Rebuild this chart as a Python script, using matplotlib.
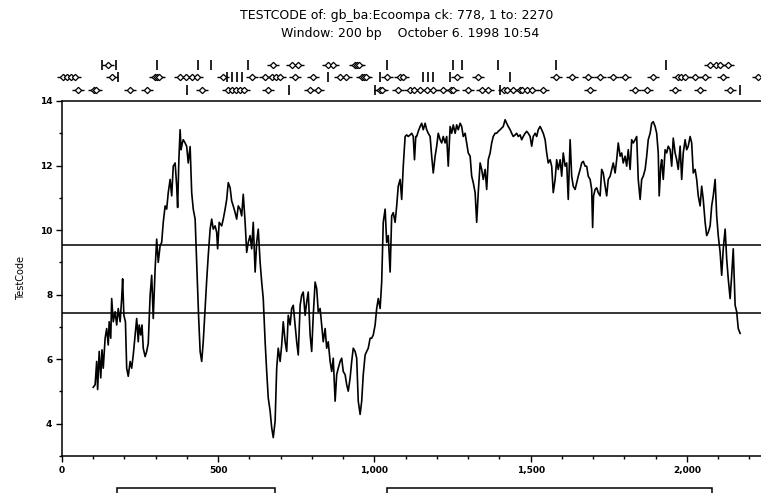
import matplotlib
matplotlib.use("Agg")
import matplotlib.pyplot as plt
import matplotlib.transforms as mtransforms
from matplotlib.patches import Rectangle
from matplotlib.ticker import MultipleLocator, FuncFormatter

# Sliding-window TestCode profile (position in bp, score)
positions = [
    100, 106, 111, 114, 119, 124, 128, 132, 138, 143, 148, 151, 156, 159, 164, 170, 175, 180, 186, 191,
    194, 198, 203, 207, 212, 218, 223, 228, 234, 239, 244, 247, 252, 256, 260, 266, 271, 276, 282, 287,
    292, 298, 303, 308, 314, 319, 324, 330, 335, 340, 346, 351, 356, 362, 367, 370, 374, 378, 381, 385,
    388, 394, 399, 404, 410, 415, 420, 426, 429, 433, 437, 442, 447, 452, 458, 463, 468, 474, 479, 484,
    490, 495, 498, 503, 511, 516, 522, 527, 532, 538, 543, 548, 554, 559, 564, 570, 575, 580, 586, 591,
    596, 602, 607, 612, 618, 623, 628, 634, 639, 644, 650, 655, 660, 666, 671, 676, 682, 687, 692, 698,
    703, 708, 714, 719, 724, 730, 735, 740, 746, 751, 756, 762, 767, 772, 778, 783, 788, 794, 799, 804,
    810, 815, 820, 826, 831, 836, 842, 847, 852, 858, 863, 868, 874, 879, 884, 890, 895, 900, 906, 911,
    916, 922, 927, 932, 938, 943, 948, 954, 959, 964, 970, 975, 980, 986, 991, 996, 1002, 1007, 1012, 1018,
    1023, 1028, 1034, 1039, 1044, 1050, 1055, 1060, 1066, 1071, 1076, 1082, 1087, 1092, 1098, 1103, 1108, 1114, 1119, 1124,
    1128, 1132, 1135, 1140, 1146, 1151, 1156, 1162, 1167, 1172, 1178, 1183, 1188, 1194, 1199, 1204, 1210, 1215, 1220, 1226,
    1231, 1236, 1242, 1247, 1252, 1258, 1263, 1268, 1274, 1279, 1284, 1290, 1295, 1300, 1306, 1311, 1316, 1322, 1327, 1332,
    1338, 1343, 1348, 1354, 1359, 1364, 1370, 1375, 1380, 1386, 1391, 1396, 1402, 1407, 1412, 1418, 1423, 1428, 1434, 1439,
    1444, 1450, 1455, 1460, 1466, 1471, 1476, 1482, 1487, 1492, 1498, 1503, 1508, 1514, 1519, 1524, 1530, 1535, 1540, 1546,
    1551, 1556, 1562, 1567, 1572, 1578, 1583, 1588, 1594, 1599, 1604, 1610, 1615, 1620, 1626, 1631, 1636, 1642, 1647, 1652,
    1658, 1663, 1668, 1674, 1679, 1684, 1690, 1695, 1698, 1701, 1706, 1711, 1716, 1722, 1727, 1732, 1738, 1743, 1748, 1754,
    1759, 1764, 1770, 1775, 1780, 1786, 1791, 1796, 1802, 1807, 1812, 1818, 1823, 1828, 1834, 1839, 1844, 1850, 1855, 1860,
    1866, 1871, 1876, 1882, 1887, 1892, 1898, 1903, 1908, 1911, 1916, 1919, 1924, 1930, 1935, 1940, 1946, 1951, 1956, 1962,
    1967, 1972, 1978, 1983, 1988, 1994, 1999, 2004, 2010, 2015, 2020, 2026, 2031, 2036, 2042, 2047, 2052, 2058, 2063, 2068,
    2074, 2079, 2084, 2090, 2095, 2100, 2106, 2111, 2116, 2122, 2127, 2132, 2138, 2143, 2148, 2154, 2159, 2164, 2170,
]
scores = [
    5.13, 5.21, 5.93, 5.06, 6.24, 5.42, 6.29, 5.72, 6.65, 6.95, 6.44, 7.16, 6.65, 7.88, 7.16, 7.47, 7.06, 7.57, 7.16, 7.88,
    8.49, 7.36, 7.16, 5.72, 5.47, 5.93, 5.72, 6.13, 6.75, 7.26, 6.54, 7.06, 6.75, 7.06, 6.34, 6.08, 6.24, 6.49, 7.98, 8.60,
    7.26, 8.80, 9.72, 9.00, 9.52, 9.62, 10.24, 10.75, 10.65, 11.16, 11.57, 11.06, 11.98, 12.08, 11.36, 10.70, 12.19, 13.11, 12.49, 12.70,
    12.80, 12.70, 12.59, 12.08, 12.59, 11.16, 10.65, 10.34, 9.52, 8.44, 7.36, 6.24, 5.93, 6.54, 7.57, 8.44, 9.21, 10.03, 10.34, 10.03,
    10.13, 9.93, 9.42, 10.24, 10.13, 10.34, 10.65, 10.95, 11.47, 11.31, 10.90, 10.75, 10.54, 10.34, 10.75, 10.65, 10.44, 11.11, 10.24, 9.31,
    9.62, 9.83, 9.42, 10.24, 8.70, 9.62, 10.03, 9.00, 8.39, 7.88, 6.54, 5.62, 4.80, 4.39, 3.88, 3.57, 4.08, 5.72, 6.34, 5.93,
    6.44, 7.16, 6.54, 6.24, 7.36, 7.06, 7.57, 7.67, 7.06, 6.54, 6.13, 7.67, 7.98, 8.08, 7.36, 7.77, 8.08, 6.75, 6.24, 7.36,
    8.39, 8.19, 7.47, 7.57, 7.06, 6.54, 6.95, 6.34, 6.54, 5.93, 5.62, 6.03, 4.70, 5.52, 5.72, 5.93, 6.03, 5.62, 5.52, 5.21,
    5.01, 5.42, 5.93, 6.34, 6.24, 6.03, 4.70, 4.29, 4.70, 5.52, 6.13, 6.24, 6.34, 6.65, 6.65, 6.75, 7.06, 7.57, 7.88, 7.57,
    8.39, 10.24, 10.65, 9.62, 9.83, 8.70, 10.44, 10.54, 10.24, 10.75, 11.36, 11.57, 10.95, 11.98, 12.90, 12.95, 12.90, 12.95, 13.00, 12.90,
    12.18, 12.90, 12.90, 13.06, 13.21, 13.31, 13.11, 13.31, 13.11, 13.00, 12.90, 12.29, 11.77, 12.29, 12.60, 13.00, 12.80, 12.70, 12.90, 12.70,
    12.90, 11.98, 13.21, 13.00, 13.26, 13.00, 13.26, 13.11, 13.31, 13.21, 12.90, 13.00, 12.70, 12.39, 12.29, 11.67, 11.47, 11.16, 10.24, 11.16,
    12.08, 11.88, 11.57, 11.88, 11.26, 12.18, 12.39, 12.70, 12.90, 13.00, 13.00, 13.06, 13.11, 13.16, 13.21, 13.42, 13.31, 13.21, 13.11, 13.00,
    12.90, 12.95, 13.00, 12.90, 12.95, 12.80, 12.90, 13.00, 13.06, 13.00, 12.90, 12.60, 12.90, 13.00, 12.90, 13.11, 13.21, 13.11, 13.00, 12.80,
    12.39, 12.08, 12.18, 11.98, 11.16, 11.57, 12.18, 11.88, 12.18, 11.67, 12.39, 11.98, 12.08, 10.95, 12.80, 11.67, 11.36, 11.26, 11.47, 11.67,
    11.88, 12.08, 12.13, 11.98, 11.98, 11.67, 11.57, 11.26, 10.08, 11.06, 11.26, 11.31, 11.16, 11.06, 11.88, 11.77, 11.36, 11.06, 11.57, 11.67,
    11.88, 12.08, 11.77, 12.18, 12.70, 12.29, 12.39, 12.08, 12.29, 11.98, 12.49, 11.88, 12.80, 12.70, 12.80, 12.90, 11.57, 10.95, 11.57, 11.67,
    11.88, 12.29, 12.80, 13.00, 13.31, 13.36, 13.21, 13.00, 12.39, 11.06, 11.98, 12.18, 11.57, 12.49, 12.39, 12.60, 12.49, 11.98, 12.85, 12.39,
    12.18, 11.88, 12.60, 11.57, 12.39, 12.80, 12.49, 12.60, 12.90, 12.70, 11.77, 11.88, 11.57, 11.06, 10.75, 11.36, 10.95, 10.24, 9.83, 9.93,
    10.13, 10.75, 11.06, 11.57, 10.44, 9.83, 9.31, 8.60, 9.42, 10.03, 9.11, 8.49, 7.88, 8.60, 9.42, 7.67, 7.47, 6.95, 6.80,
]

# Reference thresholds
threshold_high = 9.54
threshold_low = 7.44

# Site map rows above the plot: diamonds = sites, bars = stops
row1_bars = [127, 172, 303, 435, 477, 595, 1040, 1251, 1280, 1395, 1581, 1933]
row1_sites = [147, 675, 736, 755, 851, 867, 938, 944, 950, 2074, 2093, 2106, 2131]
row2_bars = [179, 528, 544, 560, 576, 851, 1018, 1155, 1171, 1187, 1242, 1434]
row2_sites = [3, 16, 29, 42, 160, 298, 304, 310, 378, 397, 416, 432, 515, 608, 650, 672, 685, 698,
              746, 803, 890, 909, 960, 966, 973, 1040, 1082, 1091, 1264, 1331, 1581, 1632, 1683,
              1722, 1763, 1802, 1891, 1971, 1981, 1994, 2026, 2058, 2115, 2227]
row3_bars = [400, 726, 1002, 1402, 2170]
row3_sites = [51, 102, 109, 218, 272, 448, 531, 544, 557, 570, 582, 659, 794, 819, 1018, 1024,
              1075, 1114, 1126, 1146, 1168, 1187, 1219, 1245, 1251, 1299, 1344, 1363, 1414, 1424,
              1443, 1466, 1472, 1488, 1504, 1539, 1690, 1834, 1872, 1962, 2042, 2138]

# Open reading frames drawn under the axis
orf_starts = [176, 1040]
orf_ends = [682, 2080]

x_ticks = [0, 500, 1000, 1500, 2000]
y_ticks = [4, 6, 8, 10, 12, 14]

W, H = 761, 493
fig = plt.figure(figsize=(W / 100, H / 100), dpi=100)
ax = fig.add_axes([62 / W, 1 - 456 / H, (W - 62) / W, 355 / H])

ax.plot(positions, scores, color="black", lw=1.2)
ax.axhline(threshold_high, color="black", lw=1.1)
ax.axhline(threshold_low, color="black", lw=1.1)

ax.set_xlim(0, (W - 62) / 0.3125)
ax.set_ylim(3, 14)

for side in ("left", "bottom", "top"):
    ax.spines[side].set_linewidth(1.1)
ax.spines["right"].set_visible(False)

ax.set_xticks(x_ticks)
ax.xaxis.set_minor_locator(MultipleLocator(100))
ax.xaxis.set_major_formatter(FuncFormatter(lambda v, p: f"{int(v):,}"))
ax.set_yticks(y_ticks)
ax.yaxis.set_minor_locator(MultipleLocator(1))
ax.tick_params(axis="both", which="major", direction="out", length=4, width=1,
               labelsize=6.5, pad=3)
ax.tick_params(axis="both", which="minor", direction="out", length=2.5, width=1)
for lab in ax.get_xticklabels() + ax.get_yticklabels():
    lab.set_fontweight("bold")

ax.set_ylabel("TestCode", fontsize=7, labelpad=10)

# Site map above the axes
trans = mtransforms.blended_transform_factory(ax.transData, ax.transAxes)
rows = [(row1_bars, row1_sites, 1.101), (row2_bars, row2_sites, 1.068), (row3_bars, row3_sites, 1.032)]
for bars, sites, yy in rows:
    ax.plot(sites, [yy] * len(sites), ls="none", marker="_", ms=9, mew=1.0,
            color="black", transform=trans, clip_on=False)
    ax.plot(sites, [yy] * len(sites), ls="none", marker="D", ms=3.2, mew=0.9,
            mfc="white", mec="black", transform=trans, clip_on=False)
    ax.plot(bars, [yy] * len(bars), ls="none", marker="|", ms=7, mew=1.2,
            color="black", transform=trans, clip_on=False)

# ORF boxes below the axis
for s, e in zip(orf_starts, orf_ends):
    ax.add_patch(Rectangle((s, -0.135), e - s, 0.044, transform=trans,
                           facecolor="white", edgecolor="black", lw=1.1, clip_on=False))

fig.text(397 / W, 1 - 16 / H, "TESTCODE of: gb_ba:Ecoompa ck: 778, 1 to: 2270",
         ha="center", va="center", fontsize=9)
fig.text(410 / W, 1 - 33 / H, "Window: 200 bp    October 6. 1998 10:54",
         ha="center", va="center", fontsize=9)

fig.savefig("out.png", dpi=100)
